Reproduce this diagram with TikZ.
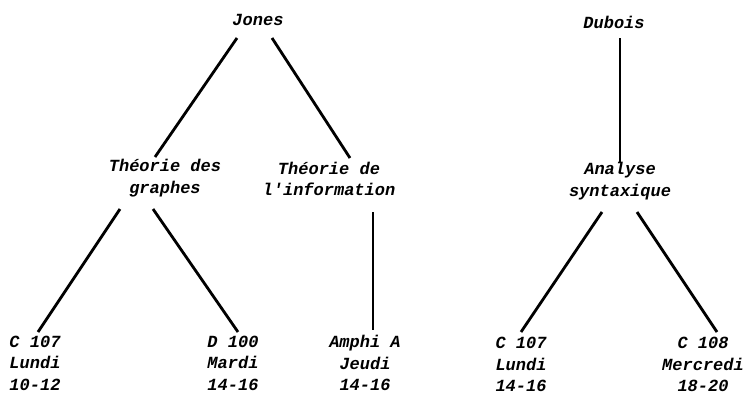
\documentclass[tikz,border=0pt]{standalone}
\usepackage{fontspec}
\setmonofont{Liberation Mono}
\usetikzlibrary{calc}
\tikzset{
  lbl/.style={font=\ttfamily\bfseries\itshape\fontsize{17}{21.5}\selectfont, align=center, inner sep=0pt},
  edge/.style={line width=2.8pt, line cap=butt}
}
\begin{document}
\begin{tikzpicture}[x=1pt,y=-1pt]
\useasboundingbox (0,0) rectangle (746,394);
% roots
\node[lbl] (jones)  at (258,20) {Jones};
\node[lbl] (dubois) at (614,22) {Dubois};
% courses
\node[lbl] (tdg) at (165,178) {Théorie des\\graphes};
\node[lbl] (tdi) at (329,179) {Théorie de\\l'information};
\node[lbl] (ana) at (620,181) {Analyse\\syntaxique};
% rooms and times
\node[lbl] (b1) at (35,363)  {C 107\\Lundi\\10-12};
\node[lbl] (b2) at (233,363) {D 100\\Mardi\\14-16};
\node[lbl] (b3) at (365,363) {Amphi A\\Jeudi\\14-16};
\node[lbl] (b4) at (521,364.5) {C 107\\Lundi\\14-16};
\node[lbl] (b5) at (703,364.5) {C 108\\Mercredi\\18-20};
% tree edges
\draw[edge] ($(jones)+(-21,18)$) -- ($(tdg)+(-10,-21)$);
\draw[edge] ($(jones)+(14,18)$)  -- ($(tdi)+(21,-21)$);
\draw[edge] ($(tdg)+(-45,31)$)   -- ($(b1)+(3,-31)$);
\draw[edge] ($(tdg)+(-12,31)$)   -- ($(b2)+(5,-31)$);
\draw[edge] ($(tdi)+(44,33)$)    -- ($(b3)+(8,-33)$);
\draw[edge] ($(dubois)+(6,16)$)  -- ($(ana)+(0,-19)$);
\draw[edge] ($(ana)+(-18,31)$)   -- ($(b4)+(0,-32.5)$);
\draw[edge] ($(ana)+(17,31)$)    -- ($(b5)+(14,-32.5)$);
\end{tikzpicture}
\end{document}
